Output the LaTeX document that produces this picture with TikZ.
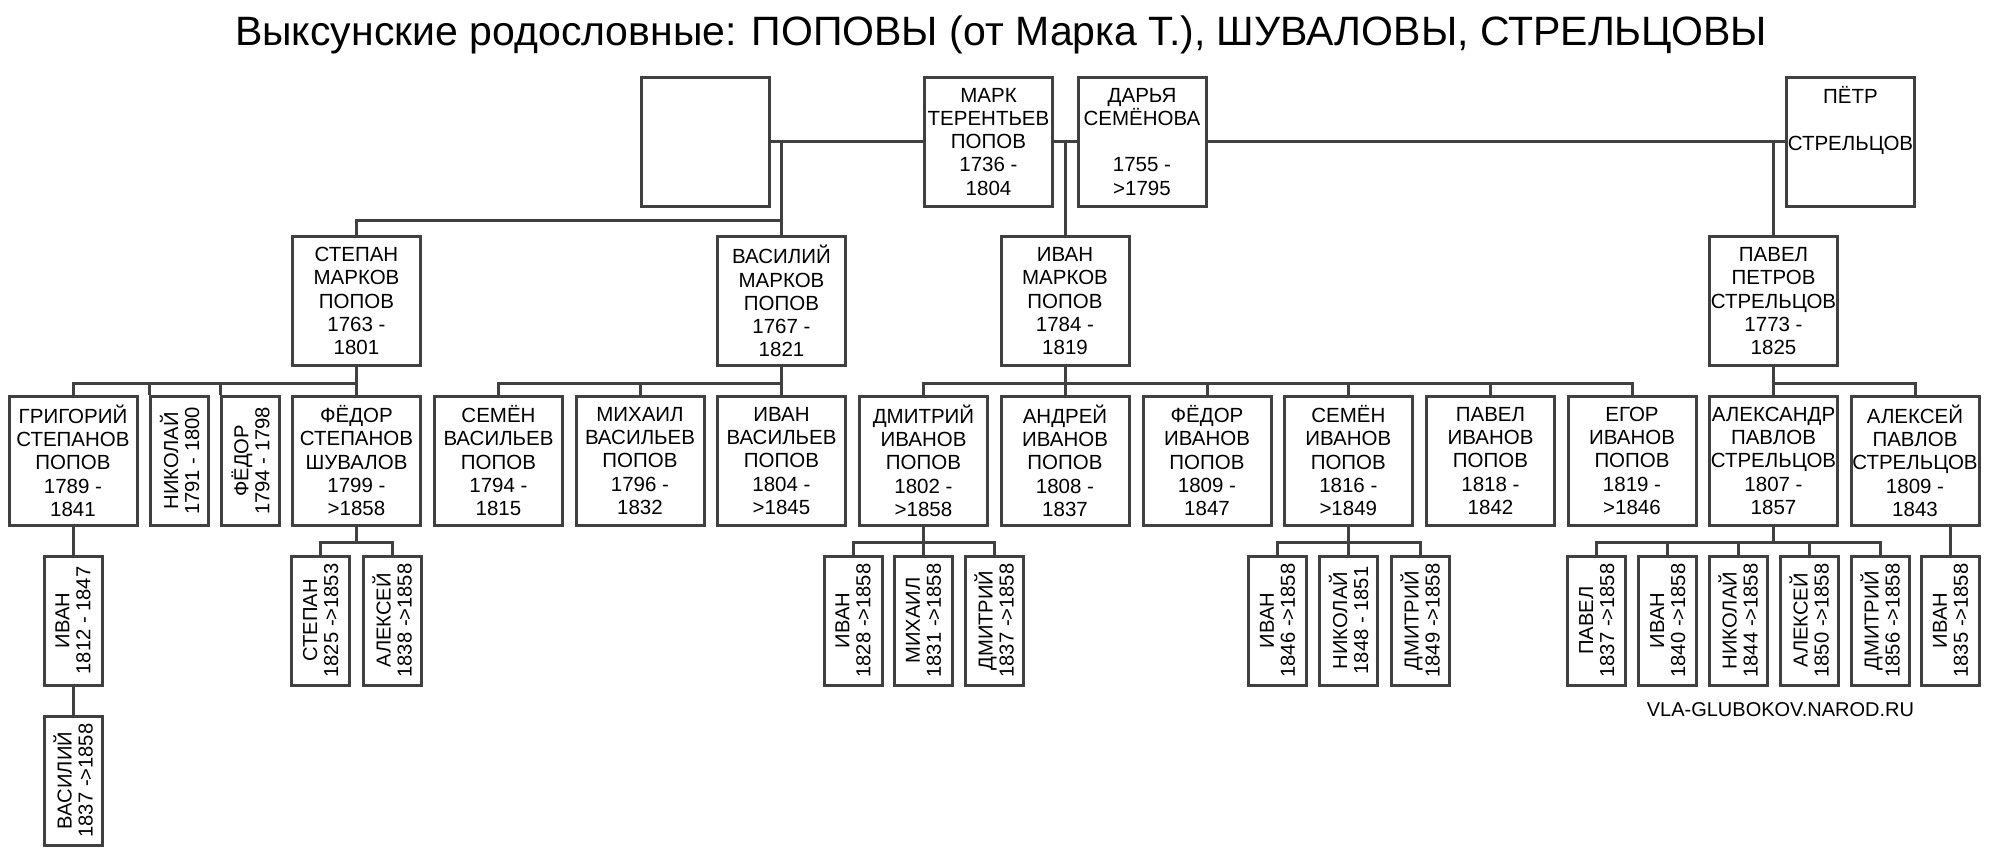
\documentclass[tikz,border=0pt]{standalone}
\usepackage{fontspec}
\setmainfont{Liberation Sans}
\usetikzlibrary{positioning, calc}
\tikzset{
  person/.style = {draw=lineGray, line width=3pt, align=center, minimum width=128pt, minimum height=129pt, inner sep=0pt, font=\fontsize{20.5}{23.3}\selectfont},
  kid/.style = {draw=lineGray, line width=3pt, align=center, rotate=90, minimum width=129pt, minimum height=58pt, inner sep=0pt, font=\fontsize{20.2}{21}\selectfont},
  link/.style = {draw=lineGray, line width=3pt}
}

\begin{document}
\begin{tikzpicture}[x=1pt, y=-1pt]
  \colorlet{lineGray}{black!75}
  \tikzset{
    titleStyle/.style={font=\fontsize{41}{44}\selectfont, anchor=base},
    siteStyle/.style={font=\fontsize{20}{24}\selectfont, anchor=base west}
  }

  \def\rowA{141.7}
  \def\rowB{301.2}
  \def\rowC{460.8}
  \def\rowD{620.5}
  \def\rowE{780.5}

  \fill[white] (0,0) rectangle (1995,857);
  \useasboundingbox (0,0) rectangle (1995,857);

  \node[titleStyle] (title) at (1001,45.7) {Выксунские родословные: ПОПОВЫ (от Марка Т.), ШУВАЛОВЫ, СТРЕЛЬЦОВЫ};

  \node[person] (blank) at (705.3,\rowA) {};
  \node[person] (mark)  at (988.5,\rowA) {МАРК\\ТЕРЕНТЬЕВ\\ПОПОВ\\1736 -\\1804};
  \node[person] (darya) at (1142,\rowA) {ДАРЬЯ\\СЕМЁНОВА\\\mbox{}\\1755 -\\>1795};
  \node[person] (petr)  at (1850.5,\rowA) {ПЁТР\\\mbox{}\\СТРЕЛЬЦОВ\\\mbox{}\\\mbox{}};

  \node[person] (stepan) at (356.5,\rowB)  {СТЕПАН\\МАРКОВ\\ПОПОВ\\1763 -\\1801};
  \node[person] (vasily) at (781.5,\rowB)  {ВАСИЛИЙ\\МАРКОВ\\ПОПОВ\\1767 -\\1821};
  \node[person] (ivan)   at (1065,\rowB)   {ИВАН\\МАРКОВ\\ПОПОВ\\1784 -\\1819};
  \node[person] (pavel)  at (1773.5,\rowB) {ПАВЕЛ\\ПЕТРОВ\\СТРЕЛЬЦОВ\\1773 -\\1825};

  \node[person] (grigory)   at (73,\rowC)     {ГРИГОРИЙ\\СТЕПАНОВ\\ПОПОВ\\1789 -\\1841};
  \node[kid]    (nikolaiSt) at (179.5,\rowC)  {НИКОЛАЙ\\1791 - 1800};
  \node[kid]    (fedorSt)   at (250.5,\rowC)  {ФЁДОР\\1794 - 1798};
  \node[person] (fedorSh)   at (356.5,\rowC)  {ФЁДОР\\СТЕПАНОВ\\ШУВАЛОВ\\1799 -\\>1858};
  \node[person] (semenV)    at (498.5,\rowC)  {СЕМЁН\\ВАСИЛЬЕВ\\ПОПОВ\\1794 -\\1815};
  \node[person] (mikhailV)  at (640,\rowC)    {МИХАИЛ\\ВАСИЛЬЕВ\\ПОПОВ\\1796 -\\1832};
  \node[person] (ivanV)     at (781.5,\rowC)  {ИВАН\\ВАСИЛЬЕВ\\ПОПОВ\\1804 -\\>1845};
  \node[person] (dmitryI)   at (923.5,\rowC)  {ДМИТРИЙ\\ИВАНОВ\\ПОПОВ\\1802 -\\>1858};
  \node[person] (andreyI)   at (1065,\rowC)   {АНДРЕЙ\\ИВАНОВ\\ПОПОВ\\1808 -\\1837};
  \node[person] (fedorI)    at (1207,\rowC)   {ФЁДОР\\ИВАНОВ\\ПОПОВ\\1809 -\\1847};
  \node[person] (semenI)    at (1348.3,\rowC) {СЕМЁН\\ИВАНОВ\\ПОПОВ\\1816 -\\>1849};
  \node[person] (pavelI)    at (1490.5,\rowC) {ПАВЕЛ\\ИВАНОВ\\ПОПОВ\\1818 -\\1842};
  \node[person] (egorI)     at (1632,\rowC)   {ЕГОР\\ИВАНОВ\\ПОПОВ\\1819 -\\>1846};
  \node[person] (aleksandrP) at (1773.5,\rowC) {АЛЕКСАНДР\\ПАВЛОВ\\СТРЕЛЬЦОВ\\1807 -\\1857};
  \node[person] (alekseyP)  at (1915,\rowC)   {АЛЕКСЕЙ\\ПАВЛОВ\\СТРЕЛЬЦОВ\\1809 -\\1843};

  \node[kid] (ivanG)     at (73,\rowD)     {ИВАН\\1812 - 1847};
  \node[kid] (stepanF)   at (320.7,\rowD)  {СТЕПАН\\1825 ->1853};
  \node[kid] (alekseyF)  at (392,\rowD)    {АЛЕКСЕЙ\\1838 ->1858};
  \node[kid] (ivanD)     at (853,\rowD)    {ИВАН\\1828 ->1858};
  \node[kid] (mikhailD)  at (923.4,\rowD)  {МИХАИЛ\\1831 ->1858};
  \node[kid] (dmitryD)   at (994,\rowD)    {ДМИТРИЙ\\1837 ->1858};
  \node[kid] (ivanS)     at (1277.5,\rowD) {ИВАН\\1846 ->1858};
  \node[kid] (nikolaiS)  at (1348.7,\rowD) {НИКОЛАЙ\\1848 - 1851};
  \node[kid] (dmitryS)   at (1420,\rowD)   {ДМИТРИЙ\\1849 ->1858};
  \node[kid] (pavelA)    at (1596.8,\rowD) {ПАВЕЛ\\1837 ->1858};
  \node[kid] (ivanA)     at (1667.8,\rowD) {ИВАН\\1840 ->1858};
  \node[kid] (nikolaiA)  at (1738,\rowD)   {НИКОЛАЙ\\1844 ->1858};
  \node[kid] (alekseyA)  at (1809,\rowD)   {АЛЕКСЕЙ\\1850 ->1858};
  \node[kid] (dmitryA)   at (1880,\rowD)   {ДМИТРИЙ\\1856 ->1858};
  \node[kid] (ivanAP)    at (1950.6,\rowD) {ИВАН\\1835 ->1858};

  \node[kid] (vasilyG) at (73,\rowE) {ВАСИЛИЙ\\1837 ->1858};

  \node[siteStyle] (site) at (1643.3,716.7) {VLA-GLUBOKOV.NAROD.RU};

  \draw[link] (blank.east) -- (mark.west);
  \draw[link] (mark.east) -- (darya.west);
  \draw[link] (darya.east) -- (petr.west);
  \draw[link] (vasily.north) -- (vasily.north |- blank.east);
  \draw[link] (stepan.north) -- ++(0,-15) -| (vasily.north);
  \draw[link] (ivan.north) -- (ivan.north |- mark.east);
  \draw[link] (pavel.north) -- (pavel.north |- petr.west);

  \foreach \c in {grigory, nikolaiSt, fedorSt, fedorSh}
    \draw[link] (stepan.south) -- ++(0,16) -| (\c.north |- fedorSh.north);
  \foreach \c in {semenV, mikhailV, ivanV}
    \draw[link] (vasily.south) -- ++(0,16) -| (\c.north);
  \foreach \c in {dmitryI, andreyI, fedorI, semenI, pavelI, egorI}
    \draw[link] (ivan.south) -- ++(0,16) -| (\c.north);
  \foreach \c in {aleksandrP, alekseyP}
    \draw[link] (pavel.south) -- ++(0,16) -| (\c.north);

  \draw[link] (grigory.south) -- (ivanG.east);
  \draw[link] (ivanG.west) -- (vasilyG.east);
  \foreach \c in {stepanF, alekseyF}
    \draw[link] (fedorSh.south) -- ++(0,15.5) -| (\c.east);
  \foreach \c in {ivanD, mikhailD, dmitryD}
    \draw[link] (dmitryI.south) -- ++(0,15.5) -| (\c.east);
  \foreach \c in {ivanS, nikolaiS, dmitryS}
    \draw[link] (semenI.south) -- ++(0,15.5) -| (\c.east);
  \foreach \c in {pavelA, ivanA, nikolaiA, alekseyA, dmitryA}
    \draw[link] (aleksandrP.south) -- ++(0,15.5) -| (\c.east);
  \draw[link] (ivanAP.east) -- (ivanAP.east |- alekseyP.south);
\end{tikzpicture}
\end{document}
